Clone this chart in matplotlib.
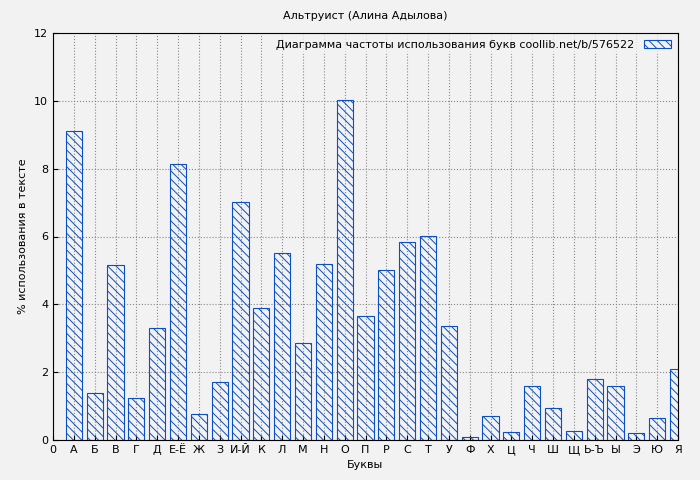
import matplotlib.pyplot as plt

letters = ["А", "Б", "В", "Г", "Д", "Е-Ё", "Ж", "З", "И-Й", "К", "Л", "М", "Н", "О", "П",
           "Р", "С", "Т", "У", "Ф", "Х", "Ц", "Ч", "Ш", "Щ", "Ь-Ъ", "Ы", "Э", "Ю", "Я"]
values = [9.1, 1.4, 5.15, 1.25, 3.3, 8.15, 0.78, 1.72, 7.03, 3.88, 5.5, 2.87, 5.2, 10.03, 3.65,
          5.0, 5.85, 6.02, 3.35, 0.1, 0.7, 0.25, 1.6, 0.93, 0.28, 1.8, 1.6, 0.22, 0.65, 2.1]

plt.rcParams['hatch.color'] = '#0a4fc4'
plt.rcParams['hatch.linewidth'] = 0.7
fig = plt.figure(figsize=(7, 4.8), dpi=100, facecolor='#f2f2f2')
ax = fig.add_axes([53/700, 40/480, 625/700, 407/480], facecolor='#f2f2f2')

pos = list(range(1, len(letters) + 1))
ax.bar(pos, values, width=0.78, color='none', edgecolor='#0a4fc4', hatch='\\\\\\\\',
       linewidth=0.8, label='Диаграмма частоты использования букв coollib.net/b/576522')

ax.set_xlim(0, 30)
ax.set_ylim(0, 12)
ax.set_xticks([0] + pos)
ax.set_xticklabels(["0"] + letters, fontsize=8)
ax.set_yticks(range(0, 13, 2))
ax.tick_params(labelsize=8, direction='in')
ax.grid(True, color='#888888', linestyle=':', linewidth=0.8)
ax.set_axisbelow(True)
ax.set_xlabel("Буквы", fontsize=8)
ax.set_ylabel("% использования в тексте", fontsize=8)
ax.set_title("Альтруист (Алина Адылова)", fontsize=8, pad=10)
leg = ax.legend(loc='upper right', fontsize=8, markerfirst=False, frameon=True,
                handlelength=2.5, borderaxespad=0.2)
leg.get_frame().set_facecolor('#f2f2f2')
leg.get_frame().set_edgecolor('none')

fig.savefig("out.png", dpi=100, facecolor=fig.get_facecolor())
